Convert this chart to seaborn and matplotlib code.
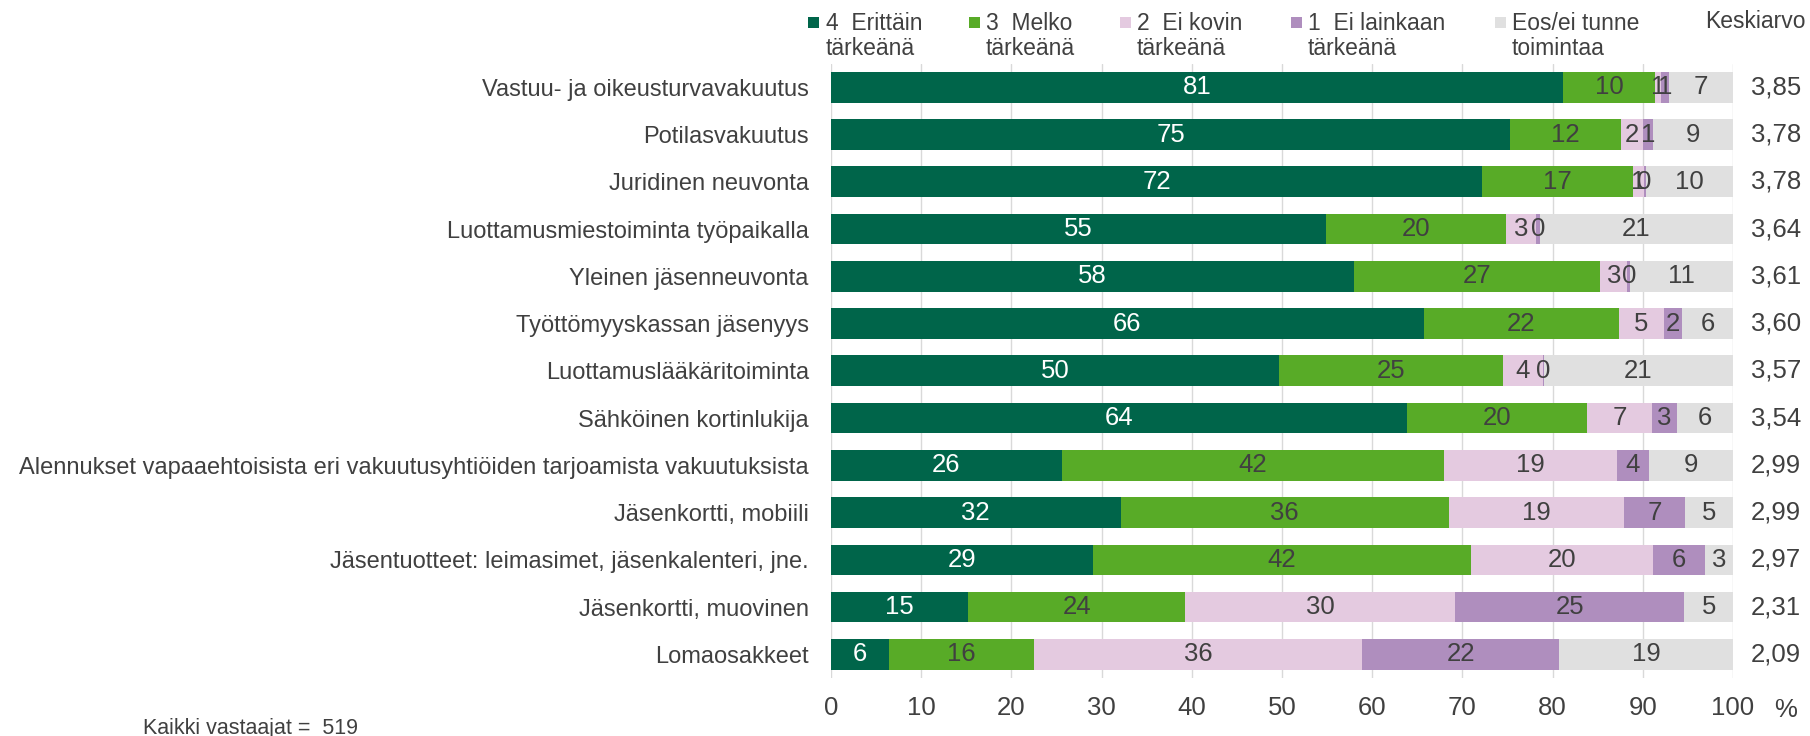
import numpy as np
import pandas as pd
import seaborn as sns
import matplotlib.pyplot as plt
from matplotlib.patches import Rectangle

categories = [
    "Vastuu- ja oikeusturvavakuutus",
    "Potilasvakuutus",
    "Juridinen neuvonta",
    "Luottamusmiestoiminta työpaikalla",
    "Yleinen jäsenneuvonta",
    "Työttömyyskassan jäsenyys",
    "Luottamuslääkäritoiminta",
    "Sähköinen kortinlukija",
    "Alennukset vapaaehtoisista eri vakuutusyhtiöiden tarjoamista vakuutuksista",
    "Jäsenkortti, mobiili",
    "Jäsentuotteet: leimasimet, jäsenkalenteri, jne.",
    "Jäsenkortti, muovinen",
    "Lomaosakkeet",
]
erittain = [81.1, 75.3, 72.2, 54.9, 58.0, 65.7, 49.7, 63.9, 25.6, 32.1, 29.1, 15.2, 6.4]
melko = [10.3, 12.3, 16.7, 19.9, 27.3, 21.7, 24.8, 19.9, 42.4, 36.4, 41.8, 24.1, 16.1]
ei_kovin = [0.6, 2.4, 1.2, 3.4, 3.0, 4.9, 4.4, 7.2, 19.1, 19.4, 20.2, 29.9, 36.4]
ei_lainkaan = [0.9, 1.1, 0.2, 0.4, 0.3, 2.1, 0.1, 2.8, 3.6, 6.8, 5.8, 25.4, 21.8]
eos = [7.1, 8.9, 9.7, 21.4, 11.4, 5.6, 21.0, 6.2, 9.3, 5.3, 3.1, 5.4, 19.3]
keskiarvo = ["3,85", "3,78", "3,78", "3,64", "3,61", "3,60", "3,57", "3,54",
             "2,99", "2,99", "2,97", "2,31", "2,09"]
series_names = ["4  Erittäin\ntärkeänä", "3  Melko\ntärkeänä", "2  Ei kovin\ntärkeänä",
                "1  Ei lainkaan\ntärkeänä", "Eos/ei tunne\ntoimintaa"]
xticks = [0, 10, 20, 30, 40, 50, 60, 70, 80, 90, 100]
vastaajat = 519

colors = ["#00654A", "#58AB27", "#E4CAE0", "#AF8EBE", "#E0E0E0"]
txt_colors = ["white", "#404040", "#404040", "#404040", "#404040"]
dark = "#404040"

sns.set_theme(style="white")
plt.rcParams['font.family'] = ['Liberation Sans', 'DejaVu Sans']

W, H = 1810, 736
fig = plt.figure(figsize=(W / 100, H / 100), dpi=100)
ax = fig.add_axes([831 / W, 1 - 678 / H, 902 / W, (678 - 63.7) / H])

df = pd.DataFrame({"cat": categories, "s4": erittain, "s3": melko,
                   "s2": ei_kovin, "s1": ei_lainkaan, "eos": eos})
cols = ["s4", "s3", "s2", "s1", "eos"]
cum = df[cols].cumsum(axis=1)
starts = cum - df[cols].values

# draw cumulative totals from largest to smallest so they stack
for i in reversed(range(len(cols))):
    sns.barplot(x=cum[cols[i]], y=df["cat"], orient="h", color=colors[i],
                saturation=1, width=0.65, linewidth=0, ax=ax, zorder=2)

# value labels in the middle of each segment
for i, c in enumerate(cols):
    for j in range(len(df)):
        v = df[c].iloc[j]
        mid = starts[c].iloc[j] + v / 2
        ax.text(mid, j, f"{v:.0f}", ha="center", va="center",
                fontsize=18.5, color=txt_colors[i], zorder=3)

# averages on the right
for j, m in enumerate(keskiarvo):
    ax.text(1.0754, j, m, transform=ax.get_yaxis_transform(), ha="right",
            va="center", fontsize=18.5, color=dark)

ax.set_xlim(0, 100)
ax.set_ylim(len(df) - 0.5, -0.5)
ax.set_xticks(xticks)
ax.set_xticklabels([str(t) for t in xticks])
ax.xaxis.grid(True, color="#D9D9D9", linewidth=1, zorder=0)
ax.yaxis.grid(False)
ax.set_axisbelow(True)
for s in ax.spines.values():
    s.set_visible(False)
ax.tick_params(axis="x", length=0, pad=13, labelsize=18.5, colors=dark)
ax.tick_params(axis="y", length=0, pad=16, labelsize=17, colors=dark)
ax.set_xlabel("")
ax.set_ylabel("")

fig.text(1786 / W, 1 - 710 / H, "%", ha="center", va="center", fontsize=18.5, color=dark)

# legend drawn by hand
sq_x = [808, 969, 1120, 1291, 1495]
tx_x = [826, 986, 1137, 1308, 1512]
for k in range(5):
    fig.add_artist(Rectangle((sq_x[k] / W, 1 - 28 / H), 11 / W, 11 / H,
                             transform=fig.transFigure, color=colors[k], lw=0))
    fig.text(tx_x[k] / W, 1 - 36 / H, series_names[k], ha="left", va="center",
             fontsize=16.5, color=dark, linespacing=1.1)
fig.text(1705 / W, 1 - 22 / H, "Keskiarvo", ha="left", va="center",
         fontsize=16.5, color=dark)

fig.text(143 / W, 1 - 734 / H, f"Kaikki vastaajat =  {vastaajat}", ha="left",
         va="baseline", fontsize=15.5, color=dark)

fig.savefig("out.png", dpi=100)
